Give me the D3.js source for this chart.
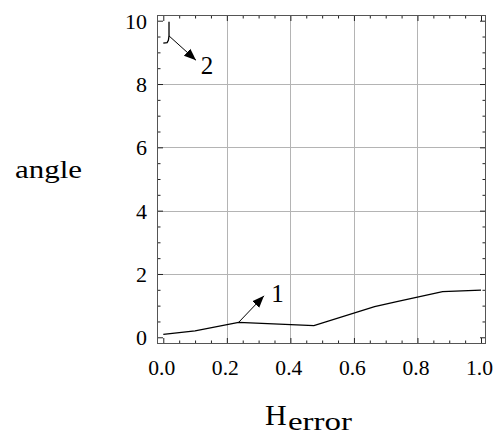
<!DOCTYPE html>
<html>
<head>
<meta charset="utf-8">
<script src="https://cdn.jsdelivr.net/npm/d3@7"></script>
<style>
  html, body { margin: 0; padding: 0; background: #fff; }
  svg { display: block; }
</style>
</head>
<body>
<svg id="chart" width="498" height="435" font-family="'Liberation Serif', 'Times New Roman', serif"></svg>
<script>
// Curve 1: angle vs H_error
const curve1X = [0.0, 0.1, 0.237, 0.474, 0.665, 0.735, 0.879, 1.0];
const curve1Y = [0.09, 0.2, 0.47, 0.37, 0.97, 1.13, 1.44, 1.49];
// Curve 2: short branch near the top-left corner
const curve2X = [0.0, 0.012, 0.016, 0.018, 0.018];
const curve2Y = [9.29, 9.31, 9.38, 9.52, 9.97];

const xMajorTicks = [0.0, 0.2, 0.4, 0.6, 0.8, 1.0];
const xTickLabels = ["0.0", "0.2", "0.4", "0.6", "0.8", "1.0"];
const yMajorTicks = [0, 2, 4, 6, 8, 10];
const yTickLabels = ["0", "2", "4", "6", "8", "10"];
const xGrid = [0.2, 0.4, 0.6, 0.8];
const yGrid = [2, 4, 6, 8];

// Curve labels: [label, anchor x, anchor y, tip x, tip y]
const labels = [
  ["1", 0.237, 0.47, 0.317, 1.31],
  ["2", 0.018, 9.52, 0.103, 8.75]
];

const svg = d3.select("#chart");
const pLeft = 157, pRight = 486, pTop = 15, pBottom = 344;

const x = d3.scaleLinear().domain([-0.0198, 1.0157]).range([pLeft, pRight]);
const y = d3.scaleLinear().domain([-0.212, 10.18]).range([pBottom, pTop]);

const xMinor = d3.range(0, 1.0001, 0.05);
const yMinor = d3.range(0, 10.0001, 0.5);

// grid
const grid = svg.append("g").attr("stroke", "#b4b4b4").attr("stroke-width", 1);
grid.selectAll("line.gx").data(xGrid).join("line")
  .attr("x1", d => Math.round(x(d)) + 0.5).attr("x2", d => Math.round(x(d)) + 0.5)
  .attr("y1", pTop).attr("y2", pBottom);
grid.selectAll("line.gy").data(yGrid).join("line")
  .attr("y1", d => Math.round(y(d)) + 0.5).attr("y2", d => Math.round(y(d)) + 0.5)
  .attr("x1", pLeft).attr("x2", pRight);

// frame axes with inward ticks
function tickSizeFor(v, majors) {
  return majors.some(m => Math.abs(m - v) < 1e-6) ? 6 : 3.5;
}
const axisColor = "#555";
function styleAxis(g) {
  g.select(".domain").remove();
  g.selectAll(".tick line").attr("stroke", "#222").attr("stroke-width", 1);
  g.selectAll("text").remove();
}

const bottomAxis = svg.append("g").attr("transform", `translate(0,${pBottom})`)
  .call(d3.axisBottom(x).tickValues(xMinor).tickSize(0).tickFormat(""));
bottomAxis.selectAll(".tick line").attr("y2", d => -tickSizeFor(d, xMajorTicks));
styleAxis(bottomAxis);

const topAxis = svg.append("g").attr("transform", `translate(0,${pTop})`)
  .call(d3.axisTop(x).tickValues(xMinor).tickSize(0).tickFormat(""));
topAxis.selectAll(".tick line").attr("y2", d => tickSizeFor(d, xMajorTicks));
styleAxis(topAxis);

const leftAxis = svg.append("g").attr("transform", `translate(${pLeft},0)`)
  .call(d3.axisLeft(y).tickValues(yMinor).tickSize(0).tickFormat(""));
leftAxis.selectAll(".tick line").attr("x2", d => tickSizeFor(d, yMajorTicks));
styleAxis(leftAxis);

const rightAxis = svg.append("g").attr("transform", `translate(${pRight},0)`)
  .call(d3.axisRight(y).tickValues(yMinor).tickSize(0).tickFormat(""));
rightAxis.selectAll(".tick line").attr("x2", d => -tickSizeFor(d, yMajorTicks));
styleAxis(rightAxis);

svg.append("rect")
  .attr("x", pLeft + 0.5).attr("y", pTop + 0.5)
  .attr("width", pRight - pLeft - 1).attr("height", pBottom - pTop - 1)
  .attr("fill", "none").attr("stroke", axisColor).attr("stroke-width", 1);

// tick labels
svg.append("g").selectAll("text").data(xMajorTicks).join("text")
  .attr("x", d => x(d) - 1.5).attr("y", 375)
  .attr("text-anchor", "middle").attr("font-size", 21)
  .attr("textLength", 27).attr("lengthAdjust", "spacingAndGlyphs")
  .text((d, i) => xTickLabels[i]);

svg.append("g").selectAll("text").data(yMajorTicks).join("text")
  .attr("x", 147).attr("y", d => y(d) + 8)
  .attr("text-anchor", "end").attr("font-size", 22)
  .text((d, i) => yTickLabels[i]);

// curves
const line = d3.line().x(d => x(d[0])).y(d => y(d[1]));
svg.append("path").datum(curve1X.map((v, i) => [v, curve1Y[i]]))
  .attr("d", line).attr("fill", "none").attr("stroke", "#000").attr("stroke-width", 1.3);
svg.append("path").datum(curve2X.map((v, i) => [v, curve2Y[i]]))
  .attr("d", line).attr("fill", "none").attr("stroke", "#000").attr("stroke-width", 1.3);

// arrow labels
svg.append("defs").append("marker")
  .attr("id", "ah").attr("viewBox", "0 0 10 10")
  .attr("refX", 10).attr("refY", 5)
  .attr("markerWidth", 12).attr("markerHeight", 12)
  .attr("markerUnits", "userSpaceOnUse")
  .attr("orient", "auto")
  .append("path").attr("d", "M0,1 L10,5 L0,9 Z").attr("fill", "#000");

labels.forEach(([t, ax, ay, tx, ty]) => {
  svg.append("line")
    .attr("x1", x(ax)).attr("y1", y(ay))
    .attr("x2", x(tx)).attr("y2", y(ty))
    .attr("stroke", "#000").attr("stroke-width", 1)
    .attr("marker-end", "url(#ah)");
});
svg.append("text").attr("x", x(0.34)).attr("y", y(1.12))
  .attr("font-size", 25).text("1");
svg.append("text").attr("x", x(0.118)).attr("y", y(8.32))
  .attr("font-size", 25).text("2");

// axis titles
svg.append("text").attr("x", 15).attr("y", 178)
  .attr("font-size", 25)
  .attr("textLength", 67).attr("lengthAdjust", "spacingAndGlyphs")
  .text("angle");
svg.append("text").attr("x", 265).attr("y", 425).attr("font-size", 30).text("H");
svg.append("text").attr("x", 288).attr("y", 430).attr("font-size", 26)
  .attr("textLength", 64).attr("lengthAdjust", "spacingAndGlyphs")
  .text("error");
</script>
</body>
</html>
